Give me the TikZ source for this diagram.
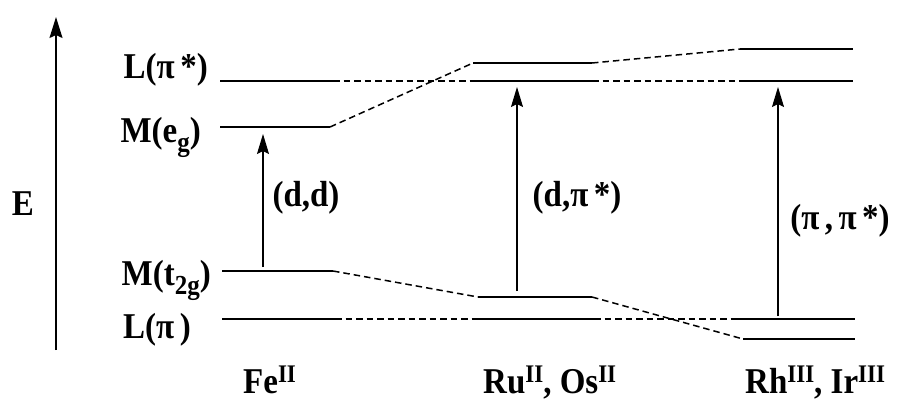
\documentclass[tikz,border=0pt]{standalone}
\usepackage{fontspec}
\usepackage{graphicx}
\setmainfont{Liberation Serif}
\usetikzlibrary{arrows.meta}
\newcommand{\subtx}[1]{\raisebox{-0.25em}{\fontsize{25}{25}\selectfont #1}}
\newcommand{\suptx}[1]{\raisebox{0.30em}{\fontsize{23}{23}\selectfont #1}}
\newcommand{\vs}[1]{\scalebox{1}[1.1]{#1}}
\begin{document}
\begin{tikzpicture}[x=1pt,y=-1pt,
 level/.style={line width=1.8pt},
 link/.style={line width=1.5pt, dash pattern=on 6.5pt off 4pt},
 trans/.style={line width=1.1pt, -{Stealth[length=20pt,width=12pt,inset=3pt]}},
 axis/.style={line width=1.4pt, -{Stealth[length=21pt,width=13pt,inset=3pt]}},
 lab/.style={font=\fontsize{33}{35}\selectfont\bfseries, inner sep=0pt},
]
\useasboundingbox (0,0) rectangle (898,402);
% Fe
\coordinate (FeLs1) at (220,81);  \coordinate (FeLs2) at (333,81);
\coordinate (FeEg1) at (220,127); \coordinate (FeEg2) at (330,127);
\coordinate (FeT1)  at (222,271); \coordinate (FeT2)  at (333,271);
\coordinate (FeL1)  at (222,319); \coordinate (FeL2)  at (335,319);
% Ru
\coordinate (RuEg1) at (473,63);  \coordinate (RuEg2) at (592,63);
\coordinate (RuLs1) at (473,81);  \coordinate (RuLs2) at (592,81);
\coordinate (RuT1)  at (478,297); \coordinate (RuT2)  at (592,297);
\coordinate (RuL1)  at (473,319); \coordinate (RuL2)  at (594,319);
% Rh
\coordinate (RhEg1) at (740,49);  \coordinate (RhEg2) at (853,49);
\coordinate (RhLs1) at (740,81);  \coordinate (RhLs2) at (853,81);
\coordinate (RhL1)  at (732,319); \coordinate (RhL2)  at (855,319);
\coordinate (RhT1)  at (743,339); \coordinate (RhT2)  at (855,339);
% levels
\foreach \a in {FeLs,FeEg,FeT,FeL,RuEg,RuLs,RuT,RuL,RhEg,RhLs,RhL,RhT}
  \draw[level] (\a1) -- (\a2);
% correlation lines
\draw[link] (FeLs2) -- (RuLs1);
\draw[link] (RuLs2) -- (RhLs1);
\draw[link] (FeEg2) -- (RuEg1);
\draw[link] (RuEg2) -- (RhEg1);
\draw[link] (FeT2) -- (RuT1);
\draw[link] (RuT2) -- (RhT1);
\draw[link] (FeL2) -- (RuL1);
\draw[link] (RuL2) -- (RhL1);
% energy axis
\coordinate (Eb) at (56,350); \coordinate (Et) at (56,17);
\draw[axis] (Eb) -- (Et);
\node[lab] (E) at (23,204) {\vs{E}};
% transitions
\coordinate (a1s) at (263,267); \coordinate (a1e) at (263,134);
\coordinate (a2s) at (517,291); \coordinate (a2e) at (517,87);
\coordinate (a3s) at (778,316); \coordinate (a3e) at (778,87);
\draw[trans] (a1s) -- (a1e);
\draw[trans] (a2s) -- (a2e);
\draw[trans] (a3s) -- (a3e);
\node[lab] (t1) at (306,198) {\vs{(d,d)}};
\node[lab] (t2) at (577,198) {\vs{(d,π\,*)}};
\node[lab] (t3) at (840,221) {\vs{(π\,,\,π\,*)}};
% level labels
\node[lab, anchor=base east] (lLs) at (208,78) {\vs{L(π\,*)}};
\node[lab, anchor=base east] (lEg) at (201,142) {\vs{M(e\subtx{g})}};
\node[lab, anchor=base east] (lT)  at (211,285) {\vs{M(t\subtx{2g})}};
\node[lab, anchor=base east] (lL)  at (191,338) {\vs{L(π\,)}};
% complex labels
\node[lab, anchor=base west] (fe) at (243,393) {\vs{Fe\suptx{II}}};
\node[lab, anchor=base west] (ru) at (483,393) {\vs{Ru\suptx{II}, Os\suptx{II}}};
\node[lab, anchor=base west] (rh) at (745,393) {\vs{Rh\suptx{III}, Ir\suptx{III}}};
\end{tikzpicture}
\end{document}
